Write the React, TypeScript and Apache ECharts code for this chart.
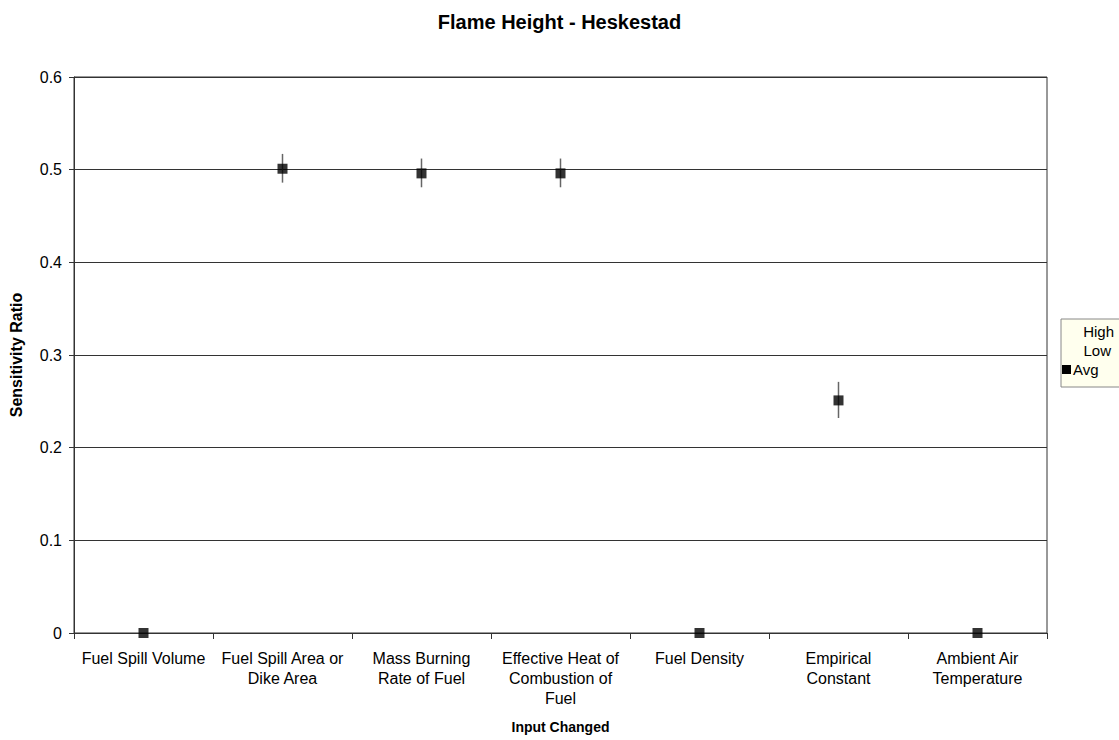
import React, { useEffect, useRef } from "react";
import * as echarts from "echarts";

const categories = [
  "Fuel Spill Volume",
  "Fuel Spill Area or\nDike Area",
  "Mass Burning\nRate of Fuel",
  "Effective Heat of\nCombustion of\nFuel",
  "Fuel Density",
  "Empirical\nConstant",
  "Ambient Air\nTemperature",
];
const highValues = [0, 0.517, 0.512, 0.512, 0, 0.271, 0];
const lowValues = [0, 0.486, 0.481, 0.481, 0, 0.232, 0];
const avgValues = [0, 0.501, 0.496, 0.496, 0, 0.251, 0];

const FONT = "'Liberation Sans', Arial, sans-serif";

export default function App() {
  const ref = useRef<HTMLDivElement>(null);
  useEffect(() => {
    document.body.style.margin = "0";
    const chart = echarts.init(ref.current!, null, { renderer: "svg" });
    const rangeData = categories.map((_, i) => [i, lowValues[i], highValues[i]]);
    chart.setOption({
      animation: false,
      backgroundColor: "#ffffff",
      textStyle: { fontFamily: FONT },
      title: {
        text: "Flame Height - Heskestad",
        left: "center",
        top: 7,
        textStyle: { fontFamily: FONT, fontSize: 20, fontWeight: "bold", color: "#000" },
      },
      grid: {
        left: 72,
        right: 72,
        top: 77,
        bottom: 107,
        show: true,
        borderColor: "#333",
        borderWidth: 1,
      },
      xAxis: {
        type: "category",
        data: categories,
        boundaryGap: true,
        name: "Input Changed",
        nameLocation: "middle",
        nameGap: 87,
        nameTextStyle: { fontFamily: FONT, fontSize: 14, fontWeight: "bold", color: "#000" },
        axisLine: { lineStyle: { color: "#333", width: 1 } },
        axisTick: { show: true, length: 6, alignWithLabel: false, lineStyle: { color: "#333" } },
        axisLabel: {
          interval: 0,
          margin: 15,
          fontFamily: FONT,
          fontSize: 16,
          lineHeight: 20,
          color: "#000",
        },
        splitLine: { show: false },
      },
      yAxis: {
        type: "value",
        min: 0,
        max: 0.6,
        interval: 0.1,
        name: "Sensitivity Ratio",
        nameLocation: "middle",
        nameGap: 50,
        nameTextStyle: { fontFamily: FONT, fontSize: 16, fontWeight: "bold", color: "#000" },
        axisLine: { show: true, lineStyle: { color: "#333", width: 1 } },
        axisTick: { show: true, length: 5, lineStyle: { color: "#333" } },
        axisLabel: {
          margin: 12,
          fontFamily: FONT,
          fontSize: 16,
          color: "#000",
          formatter: (v: number) => String(Math.round(v * 10) / 10),
        },
        splitLine: { show: true, lineStyle: { color: "#333", width: 1 } },
      },
      series: [
        {
          name: "HighLow",
          type: "custom",
          data: rangeData,
          encode: { x: 0, y: [1, 2] },
          renderItem: (params: any, api: any) => {
            const x = api.value(0);
            const p1 = api.coord([x, api.value(1)]);
            const p2 = api.coord([x, api.value(2)]);
            return {
              type: "line",
              shape: { x1: p1[0], y1: p1[1], x2: p2[0], y2: p2[1] },
              style: { stroke: "#666", lineWidth: 1.5 },
            };
          },
          z: 2,
        },
        {
          name: "Avg",
          type: "scatter",
          data: avgValues,
          symbol: "rect",
          symbolSize: 10,
          itemStyle: { color: "#000" },
          z: 3,
        },
      ],
      graphic: [
        {
          type: "rect",
          shape: { x: 1061, y: 319, width: 60, height: 68 },
          style: { fill: "#ffffee", stroke: "#888", lineWidth: 1 },
        },
        {
          type: "text",
          style: {
            x: 1114, y: 331, text: "High", align: "right", verticalAlign: "middle",
            font: `15px ${FONT}`, fill: "#000",
          },
        },
        {
          type: "text",
          style: {
            x: 1111, y: 350, text: "Low", align: "right", verticalAlign: "middle",
            font: `15px ${FONT}`, fill: "#000",
          },
        },
        {
          type: "rect",
          shape: { x: 1062, y: 365, width: 9, height: 9 },
          style: { fill: "#000" },
        },
        {
          type: "text",
          style: {
            x: 1073, y: 369, text: "Avg", align: "left", verticalAlign: "middle",
            font: `15px ${FONT}`, fill: "#000",
          },
        },
      ],
    });
    return () => chart.dispose();
  }, []);
  return <div ref={ref} style={{ width: 1119, height: 740 }} />;
}
